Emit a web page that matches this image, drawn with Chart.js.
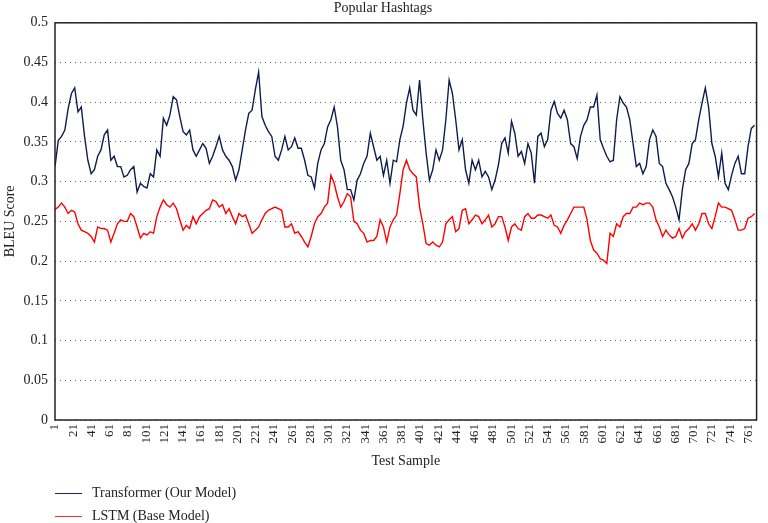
<!DOCTYPE html>
<html lang="en">
<head>
<meta charset="UTF-8">
<title>Popular Hashtags</title>
<script src="https://cdn.jsdelivr.net/npm/chart.js@4.4.1/dist/chart.umd.min.js"></script>
<style>
    body { margin: 0; background: #fff; }
    #wrap { position: relative; width: 768px; height: 523px; }
    .legend-item {
        position: absolute;
        left: 55px;
        font-family: "Liberation Serif", "Times New Roman", serif;
        font-size: 14px;
        color: #222;
        display: flex;
        align-items: center;
    }
    .legend-item span.line {
        display: inline-block;
        width: 27px;
        height: 0;
        margin-right: 10px;
        border-top: 1.5px solid;
    }
</style>
</head>
<body>
<div id="wrap">
    <canvas id="chart" width="768" height="523"></canvas>
    <div class="legend-item" style="top:485px"><span class="line" style="border-color:#1b2a5e"></span>Transformer (Our Model)</div>
    <div class="legend-item" style="top:508px"><span class="line" style="border-color:#ff2a2a"></span>LSTM (Base Model)</div>
</div>

<script>
    // tick labels on the x axis (test sample numbers)
    const tickLabels = [1, 21, 41, 61, 81, 101, 121, 141, 161, 181, 201, 221, 241, 261, 281, 301,
        321, 341, 361, 381, 401, 421, 441, 461, 481, 501, 521, 541, 561, 581, 601, 621, 641,
        661, 681, 701, 721, 741, 761];

    // readings taken every ~3.6 samples, from sample 1 onwards
    const sampleStep = 3.6;

    const transformer = [
        0.319, 0.352, 0.357, 0.365, 0.392, 0.411, 0.418, 0.388, 0.394, 0.357, 0.327, 0.31,
        0.315, 0.332, 0.34, 0.359, 0.365, 0.327, 0.332, 0.319, 0.319, 0.306, 0.308, 0.315,
        0.319, 0.287, 0.298, 0.294, 0.292, 0.31, 0.306, 0.34, 0.332, 0.38,
        0.371, 0.384, 0.407, 0.403, 0.382, 0.363, 0.359, 0.365, 0.34, 0.332, 0.34, 0.348,
        0.342, 0.323, 0.332, 0.344, 0.357, 0.34, 0.332, 0.327, 0.319, 0.302, 0.315, 0.34,
        0.365, 0.386, 0.39, 0.416, 0.438, 0.382, 0.371, 0.363, 0.357, 0.332, 0.327, 0.34,
        0.357, 0.34, 0.344, 0.355, 0.342, 0.342, 0.327, 0.308, 0.306, 0.292, 0.323, 0.34,
        0.348, 0.369, 0.378, 0.394, 0.369, 0.327, 0.315, 0.29, 0.29, 0.277, 0.302, 0.31,
        0.323, 0.332, 0.361, 0.344, 0.327, 0.332, 0.308, 0.327, 0.298, 0.327, 0.325, 0.353,
        0.37, 0.399, 0.418, 0.39, 0.384, 0.428, 0.378, 0.336, 0.302, 0.315, 0.34, 0.327,
        0.34, 0.378, 0.428, 0.411, 0.378, 0.34, 0.353, 0.315, 0.298, 0.327, 0.315, 0.327,
        0.306, 0.313, 0.306, 0.29, 0.302, 0.321, 0.348, 0.355, 0.336, 0.376, 0.361, 0.332,
        0.338, 0.323, 0.348, 0.336, 0.298, 0.357, 0.361, 0.344, 0.353, 0.39, 0.401, 0.386,
        0.38, 0.39, 0.378, 0.348, 0.344, 0.329, 0.357, 0.371, 0.378, 0.394, 0.394, 0.409,
        0.353, 0.342, 0.332, 0.325, 0.327, 0.378, 0.407, 0.399, 0.394, 0.378, 0.348, 0.319,
        0.323, 0.31, 0.319, 0.353, 0.365, 0.357, 0.323, 0.319, 0.298, 0.29, 0.281, 0.268,
        0.252, 0.29, 0.315, 0.323, 0.348, 0.353, 0.378, 0.399, 0.418, 0.394, 0.348, 0.332,
        0.306, 0.336, 0.298, 0.29, 0.308, 0.323, 0.332, 0.31, 0.31, 0.344, 0.367, 0.371
    ];

    const lstm = [
        0.265, 0.268, 0.273, 0.268, 0.26, 0.264, 0.262, 0.247, 0.239, 0.237, 0.235, 0.231,
        0.224, 0.243, 0.241, 0.241, 0.239, 0.224, 0.235, 0.247, 0.252, 0.25, 0.25, 0.26,
        0.256, 0.243, 0.229, 0.235, 0.233, 0.237, 0.235, 0.256, 0.268, 0.277,
        0.271, 0.268, 0.273, 0.266, 0.252, 0.239, 0.245, 0.241, 0.256, 0.247, 0.256, 0.26,
        0.264, 0.266, 0.277, 0.275, 0.268, 0.271, 0.26, 0.266, 0.256, 0.247, 0.26, 0.256,
        0.258, 0.247, 0.235, 0.239, 0.243, 0.252, 0.26, 0.264, 0.266, 0.268, 0.266, 0.264,
        0.243, 0.243, 0.247, 0.235, 0.237, 0.231, 0.224, 0.218, 0.231, 0.247, 0.256, 0.26,
        0.268, 0.273, 0.308, 0.298, 0.281, 0.268, 0.275, 0.285, 0.281, 0.25, 0.247, 0.239,
        0.235, 0.224, 0.226, 0.226, 0.231, 0.252, 0.243, 0.224, 0.243, 0.252, 0.258, 0.285,
        0.315, 0.327, 0.315, 0.31, 0.306, 0.268, 0.247, 0.222, 0.22, 0.224, 0.22, 0.218,
        0.224, 0.247, 0.252, 0.256, 0.237, 0.241, 0.264, 0.266, 0.247, 0.252, 0.258, 0.256,
        0.247, 0.252, 0.258, 0.243, 0.247, 0.256, 0.256, 0.243, 0.226, 0.243, 0.247, 0.241,
        0.239, 0.256, 0.26, 0.254, 0.254, 0.258, 0.258, 0.256, 0.254, 0.258, 0.245, 0.243,
        0.235, 0.245, 0.252, 0.26, 0.268, 0.268, 0.268, 0.268, 0.252, 0.226, 0.214, 0.21,
        0.203, 0.201, 0.197, 0.235, 0.231, 0.247, 0.243, 0.256, 0.26, 0.26, 0.268, 0.268,
        0.273, 0.271, 0.273, 0.273, 0.268, 0.252, 0.243, 0.231, 0.239, 0.233, 0.229, 0.231,
        0.241, 0.229, 0.237, 0.241, 0.247, 0.239, 0.247, 0.26, 0.26, 0.247, 0.241, 0.256,
        0.273, 0.268, 0.268, 0.266, 0.264, 0.252, 0.239, 0.239, 0.241, 0.254, 0.256, 0.26
    ];

    const serif = '"Liberation Serif", "Times New Roman", serif';
    const textColor = '#222';

    const toPoints = vals => vals.map((v, i) => ({ x: 1 + i * sampleStep, y: v }));

    // black frame around the plot area
    const frame = {
        id: 'frame',
        afterDraw(chart) {
            const { ctx, chartArea: a } = chart;
            ctx.save();
            ctx.strokeStyle = '#222';
            ctx.lineWidth = 1.5;
            ctx.strokeRect(a.left, a.top, a.right - a.left, a.bottom - a.top);
            ctx.restore();
        }
    };

    new Chart(document.getElementById('chart'), {
        type: 'line',
        data: {
            datasets: [
                {
                    label: 'Transformer (Our Model)',
                    data: toPoints(transformer),
                    borderColor: '#0f1d4d',
                    borderWidth: 1.4,
                    pointRadius: 0,
                    tension: 0
                },
                {
                    label: 'LSTM (Base Model)',
                    data: toPoints(lstm),
                    borderColor: '#ff0000',
                    borderWidth: 1.4,
                    pointRadius: 0,
                    tension: 0
                }
            ]
        },
        options: {
            responsive: false,
            animation: false,
            devicePixelRatio: 1,
            layout: { padding: { left: 0, right: 2, top: 0, bottom: 53 } },
            plugins: {
                legend: { display: false },
                tooltip: { enabled: false },
                title: {
                    display: true,
                    text: 'Popular Hashtags',
                    color: textColor,
                    font: { family: serif, size: 14, weight: 'normal' },
                    padding: { top: 0, bottom: 6 }
                }
            },
            scales: {
                x: {
                    type: 'linear',
                    min: 1,
                    max: 770,
                    afterBuildTicks: s => { s.ticks = tickLabels.map(v => ({ value: v })); },
                    afterFit: s => { s.height = 50; },
                    ticks: {
                        autoSkip: false,
                        minRotation: 90,
                        maxRotation: 90,
                        padding: 4,
                        color: textColor,
                        font: { family: serif, size: 13 }
                    },
                    grid: { display: false, drawTicks: false },
                    border: { display: false },
                    title: {
                        display: true,
                        text: 'Test Sample',
                        color: textColor,
                        font: { family: serif, size: 14 },
                        padding: 0
                    }
                },
                y: {
                    min: 0,
                    max: 0.5,
                    afterFit: s => { s.width = 55; },
                    ticks: {
                        stepSize: 0.05,
                        padding: 7,
                        color: textColor,
                        font: { family: serif, size: 14 },
                        callback: v => String(+v.toFixed(2))
                    },
                    grid: { color: '#666', lineWidth: 1, drawTicks: false },
                    border: { display: false, dash: [1, 4] },
                    title: {
                        display: true,
                        text: 'BLEU Score',
                        color: textColor,
                        font: { family: serif, size: 14 },
                        padding: { top: 2, bottom: 0 }
                    }
                }
            }
        },
        plugins: [frame]
    });
</script>
</body>
</html>
